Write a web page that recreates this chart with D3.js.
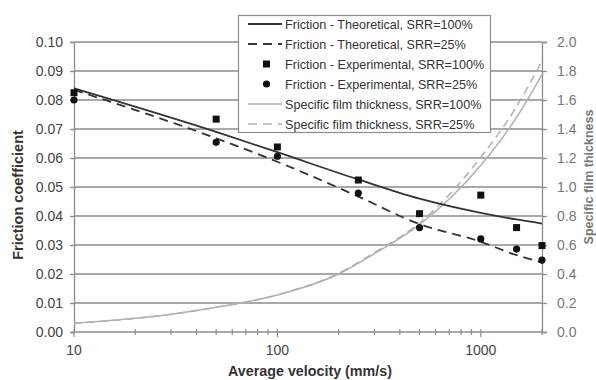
<!DOCTYPE html>
<html>
<head>
<meta charset="utf-8">
<script src="https://cdn.jsdelivr.net/npm/d3@7"></script>
<style>
  body { margin: 0; background: #fff; }
  svg { display: block; font-family: "Liberation Sans", Arial, sans-serif; }
</style>
</head>
<body>
<svg id="chart" width="596" height="380"></svg>
<script>
// velocities (mm/s) of the measured points
const velocity = [10, 50, 100, 250, 500, 1000, 1500, 2000];
const expSrr100 = [0.0825, 0.0734, 0.0638, 0.0524, 0.0408, 0.0472, 0.0360, 0.0298];
const expSrr25 = [0.0800, 0.0654, 0.0606, 0.0479, 0.0360, 0.0321, 0.0286, 0.0248];

// theoretical friction curves
const theoVelocity = [10, 50, 100, 250, 500, 1000, 1500, 2000];
const theoSrr100 = [0.0840, 0.0690, 0.0620, 0.0526, 0.0460, 0.0411, 0.0388, 0.0374];
const theoSrr25 = [0.0835, 0.0668, 0.0587, 0.0467, 0.0372, 0.0311, 0.0265, 0.0240];

// specific film thickness curves
const filmVelocity = [10, 20, 30, 50, 100, 200, 300, 500, 1000, 1500, 2000];
const filmSrr100 = [0.060, 0.094, 0.122, 0.170, 0.255, 0.400, 0.540, 0.740, 1.150, 1.480, 1.775];
const filmSrr25 = [0.060, 0.094, 0.122, 0.170, 0.257, 0.405, 0.548, 0.752, 1.205, 1.555, 1.870];

const frictionTicks = [0, 0.01, 0.02, 0.03, 0.04, 0.05, 0.06, 0.07, 0.08, 0.09, 0.10];
const filmTicks = [0, 0.2, 0.4, 0.6, 0.8, 1.0, 1.2, 1.4, 1.6, 1.8, 2.0];
const velocityLabels = [10, 100, 1000];

const legendItems = [
  'Friction - Theoretical, SRR=100%',
  'Friction - Theoretical, SRR=25%',
  'Friction - Experimental, SRR=100%',
  'Friction - Experimental, SRR=25%',
  'Specific film thickness, SRR=100%',
  'Specific film thickness, SRR=25%'
];

const svg = d3.select('#chart');
const plotLeft = 74, plotRight = 542, plotTop = 42, plotBottom = 332;

const x = d3.scaleLog().domain([10, 2000]).range([plotLeft, plotRight]);
const y = d3.scaleLinear().domain([0, 0.10]).range([plotBottom, plotTop]);
const y2 = d3.scaleLinear().domain([0, 2.0]).range([plotBottom, plotTop]);

const gridColor = '#8c8c8c';

// horizontal gridlines
svg.append('g').selectAll('line').data(frictionTicks.slice(1)).enter()
  .append('line')
    .attr('x1', plotLeft).attr('x2', plotRight)
    .attr('y1', d => y(d)).attr('y2', d => y(d))
    .attr('stroke', gridColor).attr('stroke-width', 1.3);

// left axis
const yAxis = svg.append('g')
  .attr('transform', `translate(${plotLeft},0)`)
  .call(d3.axisLeft(y).tickValues(frictionTicks).tickFormat(d3.format('.2f')).tickSize(4).tickPadding(7));
yAxis.selectAll('path, line').attr('stroke', gridColor).attr('stroke-width', 1.3);
yAxis.selectAll('text').attr('font-size', 14).attr('fill', '#444');
yAxis.attr('font-family', null);

// right axis
const y2Axis = svg.append('g')
  .attr('transform', `translate(${plotRight},0)`)
  .call(d3.axisRight(y2).tickValues(filmTicks).tickFormat(d3.format('.1f')).tickSize(5).tickPadding(10));
y2Axis.selectAll('path, line').attr('stroke', gridColor).attr('stroke-width', 1.3);
y2Axis.selectAll('text').attr('font-size', 14).attr('fill', '#777');
y2Axis.attr('font-family', null);

// bottom axis: major ticks at decades, minor ticks crossing the line
const minor = x.ticks().filter(d => velocityLabels.indexOf(d) < 0 && d > 10 && d <= 2000);
const xg = svg.append('g');
xg.append('line')
  .attr('x1', plotLeft).attr('x2', plotRight).attr('y1', plotBottom).attr('y2', plotBottom)
  .attr('stroke', gridColor).attr('stroke-width', 1.3);
xg.selectAll('.minor').data(minor).enter()
  .append('line')
    .attr('class', 'minor')
    .attr('x1', d => x(d)).attr('x2', d => x(d))
    .attr('y1', plotBottom - 3).attr('y2', plotBottom + 3)
    .attr('stroke', gridColor).attr('stroke-width', 1.2);
xg.selectAll('.major').data(velocityLabels).enter()
  .append('line')
    .attr('class', 'major')
    .attr('x1', d => x(d)).attr('x2', d => x(d))
    .attr('y1', plotBottom - 3).attr('y2', plotBottom + 5)
    .attr('stroke', gridColor).attr('stroke-width', 1.2);
xg.selectAll('text').data(velocityLabels).enter()
  .append('text')
    .attr('x', d => x(d)).attr('y', plotBottom + 23)
    .attr('text-anchor', 'middle')
    .attr('font-size', 14).attr('fill', '#444')
    .text(d => d);

// axis titles
svg.append('text')
  .attr('x', 310).attr('y', 376)
  .attr('text-anchor', 'middle')
  .attr('font-size', 14.3).attr('font-weight', 'bold').attr('fill', '#333')
  .text('Average velocity (mm/s)');

svg.append('text')
  .attr('transform', 'translate(23,195) rotate(-90)')
  .attr('text-anchor', 'middle')
  .attr('font-size', 14.5).attr('font-weight', 'bold').attr('fill', '#333')
  .text('Friction coefficient');

svg.append('text')
  .attr('transform', 'translate(592.5,177) rotate(-90)')
  .attr('text-anchor', 'middle')
  .attr('font-size', 12.5).attr('font-weight', 'bold').attr('fill', '#777')
  .text('Specific film thickness');

// curves
const frictionLine = d3.line()
  .x(d => x(d[0])).y(d => y(d[1]))
  .curve(d3.curveMonotoneX);
const filmLine = d3.line()
  .x(d => x(d[0])).y(d => y2(d[1]))
  .curve(d3.curveMonotoneX);

const series = [
  { line: filmLine, data: d3.zip(filmVelocity, filmSrr100), color: '#b0b0b0', dash: null, width: 1.5 },
  { line: filmLine, data: d3.zip(filmVelocity, filmSrr25), color: '#b0b0b0', dash: '8,5', width: 1.5 },
  { line: frictionLine, data: d3.zip(theoVelocity, theoSrr100), color: '#333', dash: null, width: 1.8 },
  { line: frictionLine, data: d3.zip(theoVelocity, theoSrr25), color: '#333', dash: '9,6', width: 1.8 }
];

series.forEach(function(s) {
  svg.append('path')
    .datum(s.data)
    .attr('d', s.line)
    .attr('fill', 'none')
    .attr('stroke', s.color)
    .attr('stroke-width', s.width)
    .attr('stroke-dasharray', s.dash);
});

// experimental points
svg.append('g').selectAll('rect').data(d3.zip(velocity, expSrr100)).enter()
  .append('rect')
    .attr('x', d => x(d[0]) - 3.5).attr('y', d => y(d[1]) - 3.5)
    .attr('width', 7).attr('height', 7)
    .attr('fill', '#111');

svg.append('g').selectAll('circle').data(d3.zip(velocity, expSrr25)).enter()
  .append('circle')
    .attr('cx', d => x(d[0])).attr('cy', d => y(d[1]))
    .attr('r', 3.6)
    .attr('fill', '#111');

// legend
const legend = svg.append('g');
legend.append('rect')
  .attr('x', 238.5).attr('y', 15.5)
  .attr('width', 252).attr('height', 117)
  .attr('fill', '#fff').attr('stroke', '#8c8c8c').attr('stroke-width', 1.2);

const legendStyle = [
  { type: 'line', color: '#333', dash: null, width: 1.8 },
  { type: 'line', color: '#333', dash: '9,6', width: 1.8 },
  { type: 'square' },
  { type: 'circle' },
  { type: 'line', color: '#b0b0b0', dash: null, width: 1.5 },
  { type: 'line', color: '#b0b0b0', dash: '9,6', width: 1.5 }
];

const row = legend.selectAll('.item').data(legendItems).enter()
  .append('g')
    .attr('class', 'item')
    .attr('transform', (d, i) => `translate(0,${24 + i * 20})`);

row.each(function(d, i) {
  const g = d3.select(this);
  const st = legendStyle[i];
  if (st.type === 'line') {
    g.append('line')
      .attr('x1', 248).attr('x2', 282).attr('y1', 0).attr('y2', 0)
      .attr('stroke', st.color).attr('stroke-width', st.width)
      .attr('stroke-dasharray', st.dash);
  } else if (st.type === 'square') {
    g.append('rect').attr('x', 263).attr('y', -3.5).attr('width', 7).attr('height', 7).attr('fill', '#111');
  } else {
    g.append('circle').attr('cx', 266.5).attr('cy', 0).attr('r', 3.6).attr('fill', '#111');
  }
  g.append('text')
    .attr('x', 285).attr('y', 4.5)
    .attr('font-size', 12.6).attr('fill', '#333')
    .text(d);
});
</script>
</body>
</html>
